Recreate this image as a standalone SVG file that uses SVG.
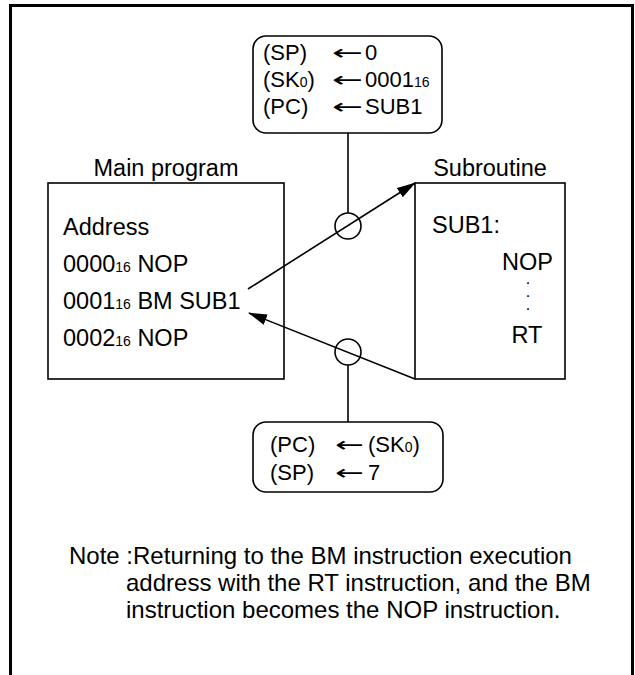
<svg xmlns="http://www.w3.org/2000/svg" width="635" height="675" viewBox="0 0 635 675">
<style>
text{font-family:"Liberation Sans",Arial,sans-serif;font-size:23.5px;fill:#000}
.bx{font-size:22px}
.sub{font-size:14px}
.arr{font-family:"DejaVu Sans",sans-serif;font-size:21px}
.dot{font-size:16px}
.note{font-size:24px}
.box{fill:none;stroke:#000;stroke-width:1.6}
.ln{fill:none;stroke:#000;stroke-width:1.6}
</style>
<defs>
<marker id="ah" markerWidth="19" markerHeight="12" refX="18" refY="6" orient="auto" markerUnits="userSpaceOnUse">
<path d="M0,0.5 L19,6 L0,11.5 Z" fill="#000"/>
</marker>
</defs>
<rect width="635" height="675" fill="#fff"/>
<path d="M10.5,675 V5.5 H632.5 V675" fill="none" stroke="#000" stroke-width="3"/>

<g id="top-box">
<rect class="box" x="253" y="36" width="189" height="97" rx="13"/>
<text class="bx" x="263" y="60">(SP)</text><text class="arr" x="332" y="60" textLength="31" lengthAdjust="spacingAndGlyphs">←</text><text class="bx" x="365" y="60">0</text>
<text class="bx" x="263" y="87">(SK<tspan class="sub">0</tspan>)</text><text class="arr" x="332" y="87" textLength="31" lengthAdjust="spacingAndGlyphs">←</text><text class="bx" x="365" y="87">0001<tspan class="sub">16</tspan></text>
<text class="bx" x="263" y="114">(PC)</text><text class="arr" x="332" y="114" textLength="31" lengthAdjust="spacingAndGlyphs">←</text><text class="bx" x="365" y="114">SUB1</text>
</g>

<g id="main-program">
<text x="166" y="176" text-anchor="middle">Main program</text>
<rect class="box" x="48" y="183" width="236" height="196"/>
<text x="63" y="235">Address</text>
<text x="63" y="272">0000<tspan class="sub">16</tspan> NOP</text>
<text x="63" y="309">0001<tspan class="sub">16</tspan> BM SUB1</text>
<text x="63" y="346">0002<tspan class="sub">16</tspan> NOP</text>
</g>

<g id="subroutine">
<text x="490" y="176" text-anchor="middle">Subroutine</text>
<rect class="box" x="415" y="183" width="150" height="196"/>
<text x="432" y="233">SUB1:</text>
<text x="553" y="270" text-anchor="end">NOP</text>
<text class="dot" text-anchor="middle"><tspan x="528" y="284">.</tspan><tspan x="528" y="297">.</tspan><tspan x="528" y="310">.</tspan></text>
<text x="527" y="343" text-anchor="middle">RT</text>
</g>

<g id="bottom-box">
<rect class="box" x="253" y="422" width="190" height="70" rx="13"/>
<text class="bx" x="270" y="452">(PC)</text><text class="arr" x="335" y="452" textLength="29" lengthAdjust="spacingAndGlyphs">←</text><text class="bx" x="368" y="452">(SK<tspan class="sub">0</tspan>)</text>
<text class="bx" x="270" y="480">(SP)</text><text class="arr" x="335" y="480" textLength="29" lengthAdjust="spacingAndGlyphs">←</text><text class="bx" x="368" y="480">7</text>
</g>

<g id="connectors">
<line class="ln" x1="348" y1="133" x2="348" y2="213"/>
<circle class="ln" cx="348" cy="226" r="13"/>
<line class="ln" x1="248" y1="289" x2="415" y2="183" marker-end="url(#ah)"/>
<line class="ln" x1="415" y1="379" x2="249" y2="313" marker-end="url(#ah)"/>
<circle class="ln" cx="348" cy="352" r="13"/>
<line class="ln" x1="348" y1="365" x2="348" y2="422"/>
</g>

<g id="note">
<text class="note" x="69" y="564">Note :Returning to the BM instruction execution</text>
<text class="note" x="126" y="591">address with the RT instruction, and the BM</text>
<text class="note" x="126" y="618">instruction becomes the NOP instruction.</text>
</g>
</svg>
